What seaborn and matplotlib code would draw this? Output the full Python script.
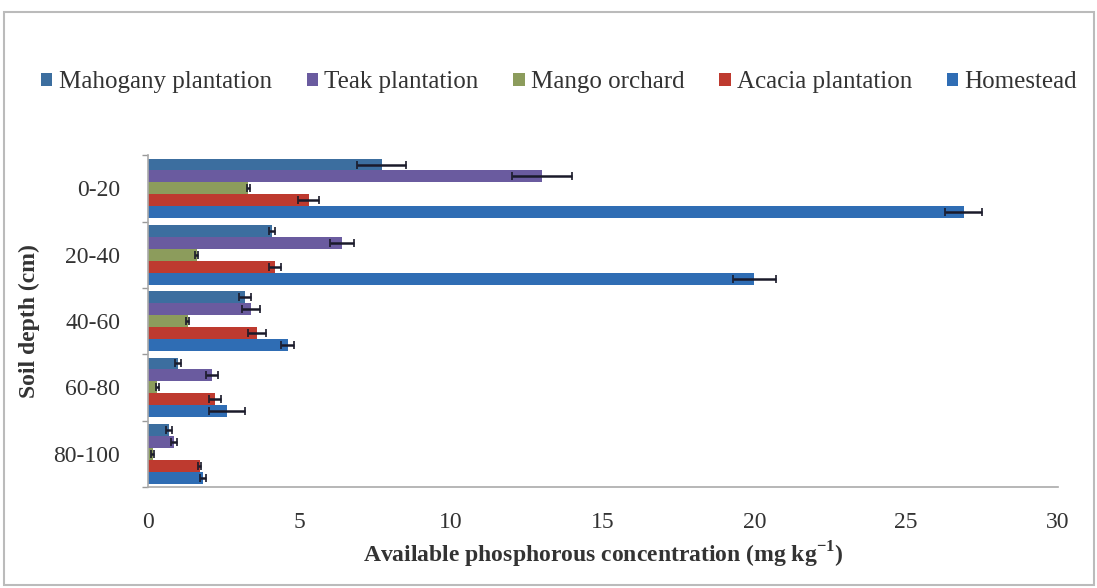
import numpy as np
import pandas as pd
import matplotlib
matplotlib.use("Agg")
import matplotlib.pyplot as plt
import seaborn as sns

depths = ["0-20", "20-40", "40-60", "60-80", "80-100"]
series = ["Mahogany plantation", "Teak plantation", "Mango orchard", "Acacia plantation", "Homestead"]
mahogany = [7.7, 4.1, 3.2, 1.0, 0.7]
teak = [13.0, 6.4, 3.4, 2.1, 0.85]
mango = [3.3, 1.6, 1.3, 0.3, 0.15]
acacia = [5.3, 4.2, 3.6, 2.2, 1.7]
homestead = [26.9, 20.0, 4.6, 2.6, 1.8]
mahogany_err = [0.8, 0.1, 0.2, 0.1, 0.1]
teak_err = [1.0, 0.4, 0.3, 0.2, 0.1]
mango_err = [0.05, 0.05, 0.05, 0.05, 0.05]
acacia_err = [0.35, 0.2, 0.3, 0.2, 0.05]
homestead_err = [0.6, 0.7, 0.2, 0.6, 0.1]
colors = ["#3c6e9f", "#6a5b9f", "#8c9c5c", "#be3a2f", "#2f6db4"]

values = [mahogany, teak, mango, acacia, homestead]
errors = [mahogany_err, teak_err, mango_err, acacia_err, homestead_err]

rows = []
for s, vals in zip(series, values):
    for d, v in zip(depths, vals):
        rows.append({"depth": d, "series": s, "value": v})
df = pd.DataFrame(rows)

sns.set_theme(style="white")
plt.rcParams["font.family"] = ["Liberation Serif", "DejaVu Serif"]
plt.rcParams["mathtext.fontset"] = "custom"
plt.rcParams["mathtext.rm"] = "Liberation Serif:bold"
plt.rcParams["mathtext.bf"] = "Liberation Serif:bold"

fig = plt.figure(figsize=(10.97, 5.88), dpi=100)
fig.patch.set_facecolor("white")
ax = fig.add_axes([0.135, 0.172, 0.829, 0.564])

sns.barplot(data=df, y="depth", x="value", hue="series", order=depths,
            hue_order=series, palette=colors, orient="h", width=0.9,
            errorbar=None, saturation=1, linewidth=0, ax=ax, legend=True)

for cont, errs in zip(ax.containers, errors):
    for bar, e in zip(cont, errs):
        yc = bar.get_y() + bar.get_height() / 2
        ax.errorbar(bar.get_width(), yc, xerr=e, fmt="none", ecolor="#1a1a2a",
                    elinewidth=1.8, capsize=3, capthick=1.2)

ax.set_xlim(0, 30)
ax.set_ylim(4.5, -0.5)
ax.set_xticks([0, 5, 10, 15, 20, 25, 30])
ax.tick_params(axis="x", labelsize=17, length=4, direction="in", pad=18, color="#999999")
ax.tick_params(axis="y", labelsize=17, length=0, pad=20)
ax.set_yticks(np.arange(-0.5, 5, 1), minor=True)
ax.tick_params(axis="y", which="minor", length=4, color="#999999", left=True)
for lab in ax.get_xticklabels() + ax.get_yticklabels():
    lab.set_color("#333333")

for s in ["top", "right"]:
    ax.spines[s].set_visible(False)
for s in ["left", "bottom"]:
    ax.spines[s].set_color("#aaaaaa")
    ax.spines[s].set_linewidth(1.2)

ax.set_xlabel(r"Available phosphorous concentration (mg kg$^{-1}$)", fontsize=17,
              fontweight="bold", color="#333333", labelpad=5)
ax.set_ylabel("Soil depth (cm)", fontsize=17, fontweight="bold", color="#333333", labelpad=10)

leg = ax.legend(loc="center", bbox_to_anchor=(0.452, 1.22), ncol=5, frameon=False,
                fontsize=18, handlelength=0.45, handleheight=0.45, handletextpad=0.25,
                columnspacing=1.4, borderaxespad=0)
for t in leg.get_texts():
    t.set_color("#333333")

fig.add_artist(plt.Rectangle((0.004, 0.005), 0.993, 0.975, transform=fig.transFigure,
                             fill=False, edgecolor="#bbbbbb", linewidth=1.5))

fig.savefig("out.png", dpi=100)
